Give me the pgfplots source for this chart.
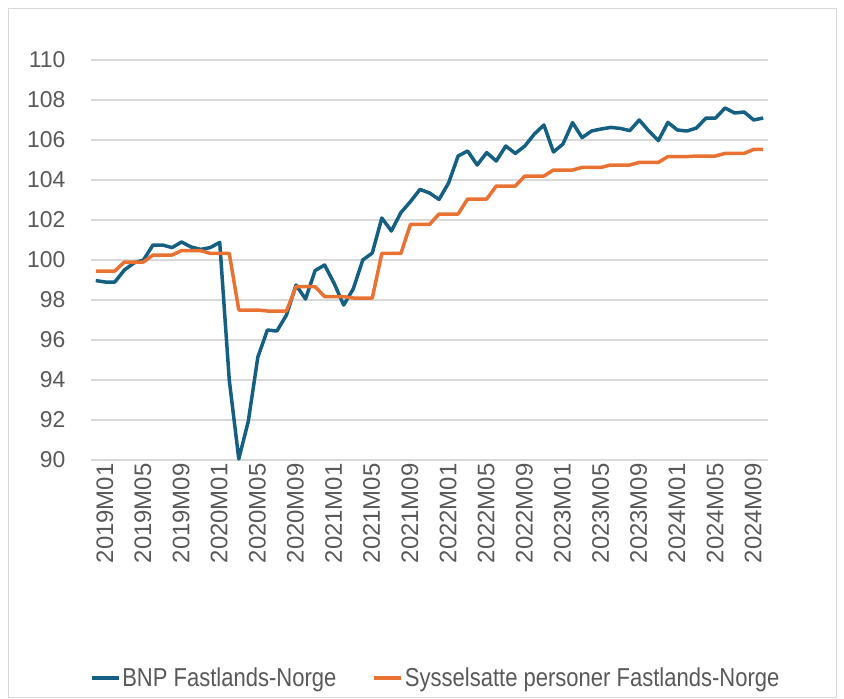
\documentclass[border=0pt]{standalone}
\usepackage{pgfplots}
\pgfplotsset{compat=1.18}
\usepackage{pgfplotstable}
\usepackage{fontspec}
\setmainfont{Liberation Sans}
\newfontfamily\legendfont{Liberation Sans}[FakeStretch=0.85]
\definecolor{bnp}{HTML}{156082}
\definecolor{syss}{HTML}{E97132}
\definecolor{gridc}{HTML}{D9D9D9}
\definecolor{txt}{HTML}{595959}

\pgfplotstableread{
x bnp syss
0 98.97 99.45
1 98.90 99.45
2 98.90 99.45
3 99.50 99.90
4 99.85 99.90
5 100.00 99.90
6 100.75 100.25
7 100.75 100.25
8 100.62 100.25
9 100.90 100.47
10 100.65 100.47
11 100.53 100.47
12 100.62 100.33
13 100.88 100.33
14 94.00 100.33
15 90.05 97.50
16 91.95 97.50
17 95.15 97.50
18 96.50 97.45
19 96.45 97.45
20 97.25 97.45
21 98.75 98.67
22 98.05 98.67
23 99.47 98.67
24 99.75 98.17
25 98.83 98.17
26 97.75 98.17
27 98.55 98.10
28 100.00 98.10
29 100.35 98.10
30 102.10 100.33
31 101.45 100.33
32 102.37 100.33
33 102.92 101.78
34 103.53 101.78
35 103.35 101.78
36 103.03 102.30
37 103.85 102.30
38 105.20 102.30
39 105.45 103.05
40 104.75 103.05
41 105.37 103.05
42 104.95 103.70
43 105.70 103.70
44 105.33 103.70
45 105.70 104.20
46 106.30 104.20
47 106.75 104.20
48 105.40 104.50
49 105.80 104.50
50 106.87 104.50
51 106.12 104.63
52 106.45 104.63
53 106.55 104.63
54 106.63 104.75
55 106.58 104.75
56 106.47 104.75
57 107.00 104.88
58 106.45 104.88
59 105.97 104.88
60 106.88 105.17
61 106.50 105.17
62 106.45 105.17
63 106.60 105.20
64 107.10 105.20
65 107.10 105.20
66 107.60 105.33
67 107.35 105.33
68 107.40 105.33
69 107.00 105.53
70 107.10 105.53
}\datatable

\begin{document}
\begin{tikzpicture}
\path[use as bounding box] (0bp,0bp) rectangle (844bp,-699bp);
\draw[gridc, line width=1bp] (8bp,-8bp) rectangle (836bp,-697bp);
\begin{axis}[
  at={(91bp,-60bp)}, anchor=north west,
  scale only axis, width=677bp, height=400bp,
  xmin=-0.5, xmax=70.5, ymin=90, ymax=110,
  ytick={90,92,...,110},
  xtick={0,4,...,68},
  xticklabels={2019M01,2019M05,2019M09,2020M01,2020M05,2020M09,2021M01,2021M05,2021M09,2022M01,2022M05,2022M09,2023M01,2023M05,2023M09,2024M01,2024M05,2024M09},
  axis line style={draw=none},
  major tick length=0pt,
  ymajorgrids, grid style={gridc, line width=1.3bp},
  /pgf/number format/assume math mode=true,
  tick label style={text=txt},
  yticklabel style={font=\fontsize{23}{27}\selectfont, xshift=-22bp},
  xticklabel style={font=\fontsize{24}{28}\selectfont, rotate=90, anchor=east, yshift=-9bp},
  clip=false,
  legend columns=2,
  legend style={at={(0.509,-0.545)}, anchor=center, draw=none, fill=none,
    font=\legendfont\fontsize{26}{30}\selectfont, text=txt,
    /tikz/every even column/.append style={column sep=34bp}},
  legend image code/.code={\draw[#1, line width=3.5bp] (0bp,0bp) -- (27bp,0bp);},
]
\addplot[bnp, line width=3.5bp, line join=round] table[x=x, y=bnp] {\datatable};
\addlegendentry{BNP Fastlands-Norge}
\addplot[syss, line width=3.5bp, line join=round] table[x=x, y=syss] {\datatable};
\addlegendentry{Sysselsatte personer Fastlands-Norge}
\end{axis}
\end{tikzpicture}
\end{document}
